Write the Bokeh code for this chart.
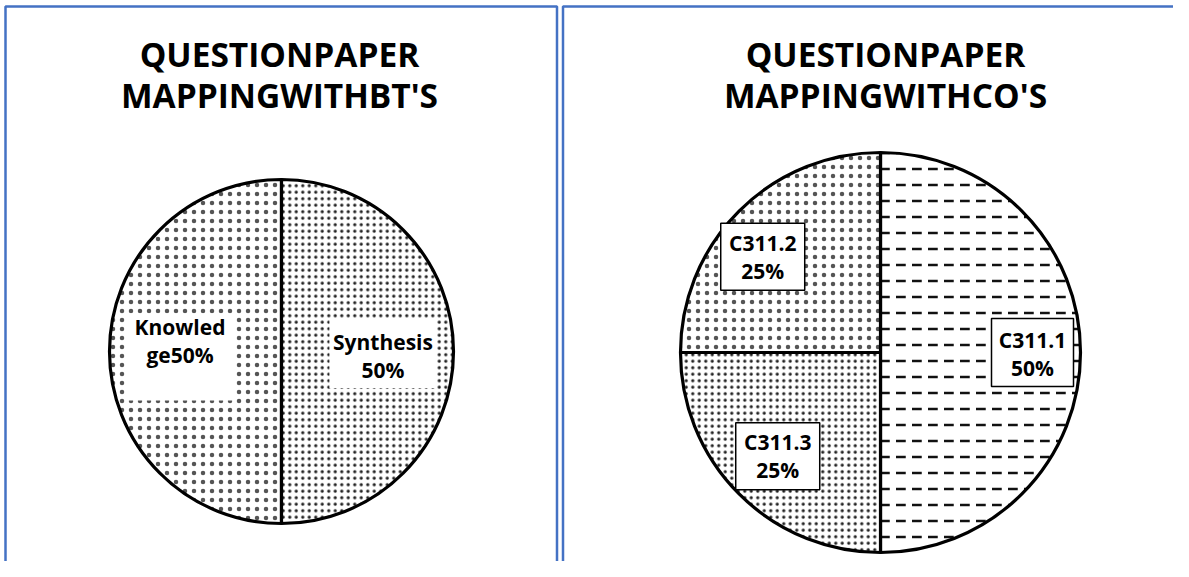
import numpy as np
from bokeh.plotting import figure
from bokeh.models import ColumnDataSource, Range1d
from bokeh.core.properties import value
from bokeh.embed import file_html
from bokeh.resources import INLINE

# ---------------- data ----------------
bt_title = ["QUESTIONPAPER", "MAPPINGWITHBT'S"]
bt_categories = ["Knowledge", "Synthesis"]
bt_values = [50, 50]

co_title = ["QUESTIONPAPER", "MAPPINGWITHCO'S"]
co_categories = ["C311.1", "C311.2", "C311.3"]
co_values = [50, 25, 25]

# ---------------- layout ----------------
W, H = 1173, 561


def sy(y):
    """screen y (pixels from top) -> data y"""
    return H - y


p = figure(width=W, height=H, x_range=Range1d(0, W), y_range=Range1d(0, H),
           output_backend="svg", toolbar_location=None, x_axis_type=None, y_axis_type=None,
           min_border=0)
p.outline_line_color = None
p.background_fill_color = "white"
p.border_fill_color = "white"

# panel borders
p.quad(left=[5, 562.5], right=[556.5, 1260], top=[sy(6), sy(6)], bottom=[sy(640), sy(640)],
       fill_color=None, line_color="#4472C4", line_width=2.5)

FONT = value("Open Sans")


def title(lines, cx):
    p.text(x=[cx, cx], y=[sy(53), sy(94.5)], text=lines, text_font=FONT, text_font_style="bold",
           text_font_size="33.5px", text_align="center", text_baseline="middle", text_color="black")


def pie(cx, cy, r, values, start_deg, patterns, scales, weights, colors):
    vals = np.array(values, dtype=float)
    frac = vals / vals.sum()
    ends = np.deg2rad(start_deg) + 2 * np.pi * np.cumsum(frac)
    starts = ends - 2 * np.pi * frac
    src = ColumnDataSource(dict(start=starts, end=ends, hatch=patterns, scale=scales,
                                weight=weights, hcolor=colors))
    p.wedge(x=cx, y=sy(cy), radius=r, start_angle="start", end_angle="end", source=src,
            fill_color="white", line_color="black", line_width=3.2,
            hatch_pattern="hatch", hatch_scale="scale", hatch_weight="weight", hatch_color="hcolor")
    return frac, (starts + ends) / 2


def labels(cx, cy, r, mids, lr, offs, texts, box_w, box_h, box_dy, box_line):
    lx = cx + lr * r * np.cos(mids) + np.array([o[0] for o in offs])
    ly = cy - lr * r * np.sin(mids) + np.array([o[1] for o in offs])
    p.rect(x=lx, y=[sy(v + d) for v, d in zip(ly, box_dy)], width=box_w, height=box_h,
           fill_color="white", line_color=box_line, line_width=1.5)
    p.text(x=lx, y=[sy(v) for v in ly], text=texts, text_font=FONT, text_font_style="bold",
           text_font_size="21px", text_align="center", text_baseline="middle",
           text_line_height=1.0, text_color="black")


# ---- left chart (BT's) ----
title(bt_title, 279)
bt_cx, bt_cy, bt_r = 281, 351, 172
bt_frac, bt_mid = pie(bt_cx, bt_cy, bt_r, bt_values, 90, ["dot", "dot"], [9, 6.5], [0.6, 1.1],
                      ["#555555", "#222222"])
bt_pct = [int(round(f * 100)) for f in bt_frac]
bt_text = [f"Knowled\nge{bt_pct[0]}%", f"{bt_categories[1]}\n{bt_pct[1]}%"]
labels(bt_cx, bt_cy, bt_r, bt_mid, 0.59, [(0, -11), (0, 4)], bt_text,
       [106, 107], [87, 70], [16.5, -2.5], None)

# ---- right chart (CO's) ----
title(co_title, 885)
co_cx, co_cy, co_r = 880, 352, 200
co_frac, co_mid = pie(co_cx, co_cy, co_r, co_values, -90, ["horizontal_dash", "dot", "dot"],
                      [16, 9, 6.5], [2.5, 0.6, 1.1], ["#111111", "#555555", "#222222"])
co_pct = [int(round(f * 100)) for f in co_frac]
co_text = [f"{c}\n{v}%" for c, v in zip(co_categories, co_pct)]
labels(co_cx, co_cy, co_r, co_mid, 0.755, [(1, 1), (-11, 11), (4, -3)], co_text,
       [82, 84, 84], [68, 67, 67], [-1, 0, 0], "black")

open("out.html", "w").write(file_html(p, INLINE))
